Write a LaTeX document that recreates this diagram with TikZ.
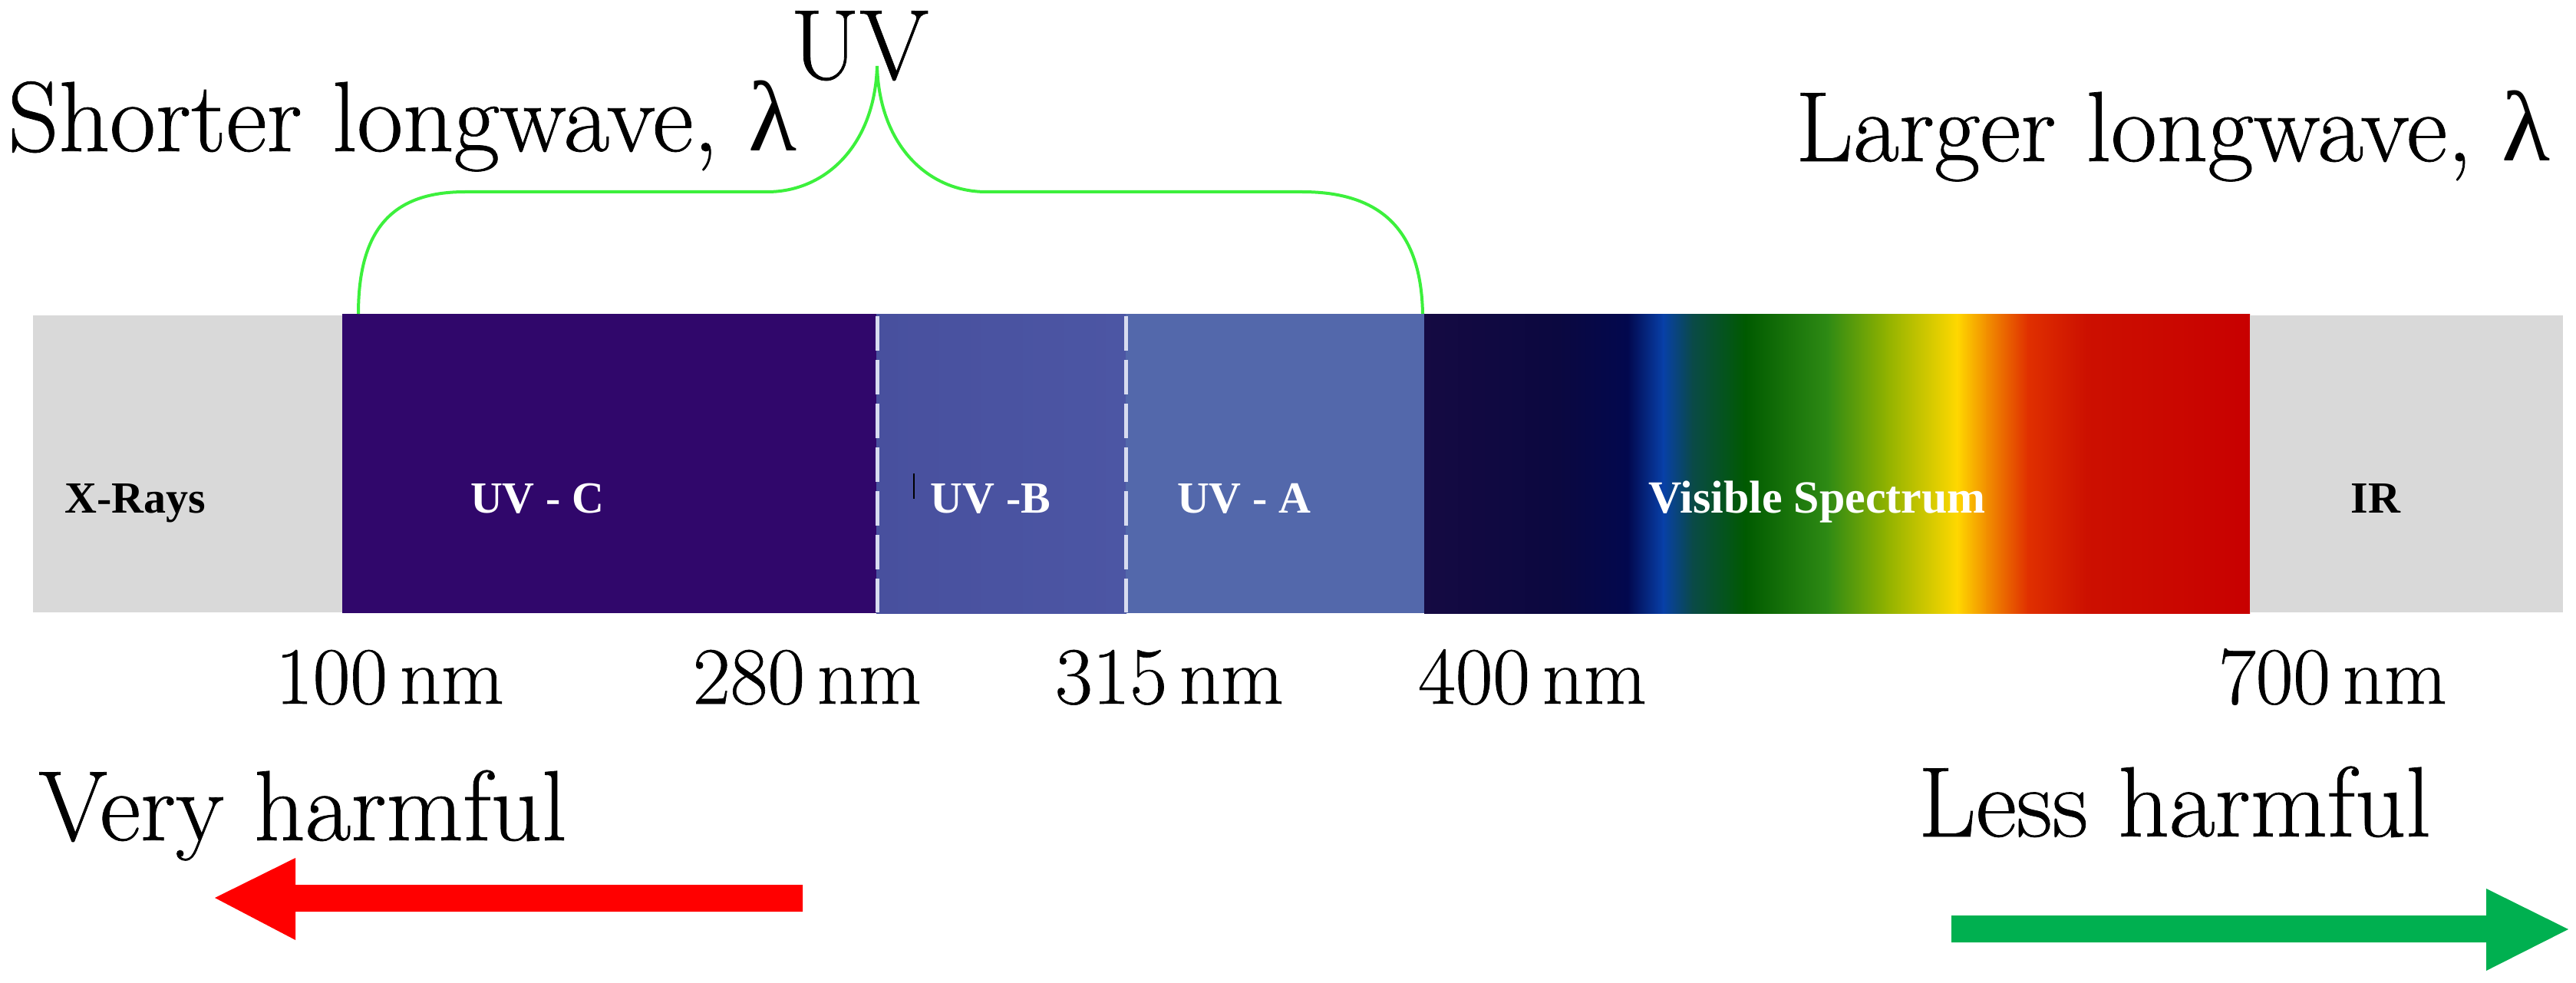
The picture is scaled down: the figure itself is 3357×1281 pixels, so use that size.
\documentclass[tikz,border=0pt]{standalone}
\usepackage{fontspec}
\newfontfamily\tnr{Liberation Serif}
\newfontfamily\bigf{Latin Modern Roman}[FakeBold=0.6]
\newfontfamily\lamf{Liberation Serif}
\definecolor{graybar}{HTML}{D9D9D9}
\definecolor{uvc}{HTML}{30076B}
\definecolor{uvbL}{HTML}{48509E}
\definecolor{uvbR}{HTML}{4C56A4}
\definecolor{uva}{HTML}{5368AB}
\definecolor{bracegreen}{HTML}{3CF03C}
\definecolor{dashcol}{HTML}{D8DCF0}
\definecolor{redarrow}{HTML}{FF0000}
\definecolor{greenarrow}{HTML}{00B050}
\definecolor{v1}{HTML}{150A42}
\definecolor{v2}{HTML}{0B0840}
\definecolor{v3}{HTML}{02084E}
\definecolor{v4}{HTML}{0840A8}
\definecolor{v5}{HTML}{0A4A48}
\definecolor{v6}{HTML}{005A00}
\definecolor{v7}{HTML}{2E8A14}
\definecolor{v8}{HTML}{90B200}
\definecolor{v9}{HTML}{FFD800}
\definecolor{v10}{HTML}{F29000}
\definecolor{v11}{HTML}{E03000}
\definecolor{v12}{HTML}{CC1000}
\definecolor{v13}{HTML}{C80000}
\begin{document}
\begin{tikzpicture}[x=1pt,y=-1pt,
  big/.style={font=\bigf\fontsize{130}{140}\selectfont, inner sep=0, anchor=base west},
  nmlbl/.style={font=\bigf\fontsize{106}{116}\selectfont, inner sep=0, anchor=base},
  barlbl/.style={font=\tnr\bfseries\fontsize{58}{64}\selectfont, inner sep=0, anchor=base},
  dashline/.style={draw=dashcol, line width=5pt, dash pattern=on 45pt off 12pt},
  bracestyle/.style={draw=bracegreen, line width=4pt},
]
\useasboundingbox (0,0) rectangle (3357,1281);
\fill[white] (0,0) rectangle (3357,1281);
% bar segments
\fill[graybar] (43,411) rectangle (446,798);
\fill[uvc] (446,409) rectangle (1143,799);
\fill[left color=uvbL, right color=uvbR] (1142,409) rectangle (1468,799);
\fill[uva] (1467,409) rectangle (1857,799);
% visible spectrum
\fill[left color=v1, right color=v2] (1856,409) rectangle (2031,799);
\fill[left color=v2, right color=v3] (2030,409) rectangle (2122,799);
\fill[left color=v3, right color=v4] (2121,409) rectangle (2168,799);
\fill[left color=v4, right color=v5] (2167,409) rectangle (2206,799);
\fill[left color=v5, right color=v6] (2205,409) rectangle (2275,799);
\fill[left color=v6, right color=v7] (2274,409) rectangle (2382,799);
\fill[left color=v7, right color=v8] (2381,409) rectangle (2459,799);
\fill[left color=v8, right color=v9] (2458,409) rectangle (2551,799);
\fill[left color=v9, right color=v10] (2550,409) rectangle (2589,799);
\fill[left color=v10, right color=v11] (2588,409) rectangle (2643,799);
\fill[left color=v11, right color=v12] (2642,409) rectangle (2719,799);
\fill[left color=v12, right color=v13] (2718,409) rectangle (2932,799);
\fill[graybar] (2932,411) rectangle (3340,798);
% dashed separators
\draw[dashline] (1143,412) -- (1143,798);
\draw[dashline] (1467,412) -- (1467,798);
\draw[black, line width=2pt] (1191,617) -- (1191,650);
% bar labels
\node[barlbl, text=black] (xr) at (176,668) {X-Rays};
\node[barlbl, text=white] (uvcl) at (700,668) {UV - C};
\node[barlbl, text=white] (uvbl) at (1291,668) {UV -B};
\node[barlbl, text=white] (uval) at (1621,668) {UV - A};
\node[barlbl, text=white, font=\tnr\bfseries\fontsize{60}{66}\selectfont] (vis) at (2368,668) {Visible Spectrum};
\node[barlbl, text=black] (ir) at (3096,668) {IR};
% brace
\coordinate (bl) at (467,409);
\coordinate (br) at (1854,409);
\coordinate (pk) at (1143,86);
\draw[bracestyle] (bl) .. controls (467,300) and (510,250) .. (606,250) -- (1000,250)
  .. controls (1075,250) and (1140,190) .. (pk)
  .. controls (1146,190) and (1210,250) .. (1285,250) -- (1697,250)
  .. controls (1800,250) and (1852,300) .. (br);
% big texts
\node[big] (uvt) at (1030,103) {UV};
\node[big] (short) at (10,197) {Shorter longwave, {\lamf λ}};
\node[big] (larger) at (2340,210) {Larger longwave, {\lamf λ}};
\node[big] (very) at (50,1095) {Very harmful};
\node[big] (less) at (2500,1090) {Less harmful};
% nm labels
\node[nmlbl] (n100) at (508,917) {100\hspace{0.15em}nm};
\node[nmlbl] (n280) at (1052,917) {280\hspace{0.15em}nm};
\node[nmlbl] (n315) at (1524,917) {315\hspace{0.15em}nm};
\node[nmlbl] (n400) at (1997,917) {400\hspace{0.15em}nm};
\node[nmlbl] (n700) at (3040,917) {700\hspace{0.15em}nm};
% arrows
\fill[redarrow] (1046,1153) -- (385,1153) -- (385,1118) -- (280,1170) -- (385,1225) -- (385,1188) -- (1046,1188) -- cycle;
\fill[greenarrow] (2543,1193) -- (3240,1193) -- (3240,1158) -- (3347,1211) -- (3240,1265) -- (3240,1228) -- (2543,1228) -- cycle;
\end{tikzpicture}
\end{document}
